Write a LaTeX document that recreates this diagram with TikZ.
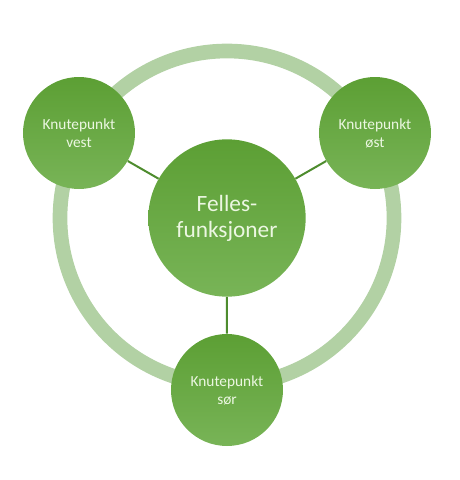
\documentclass[tikz,border=0pt]{standalone}
\usepackage{fontspec}
\setmainfont{Carlito}
\usepackage{xcolor}
\usepackage{tikz}

\definecolor{ringgreen}{HTML}{B2D1A4}
\definecolor{linkgreen}{HTML}{4E8C2E}
\definecolor{topgreen}{HTML}{5C9F34}
\definecolor{botgreen}{HTML}{78B457}
\definecolor{txtgreen}{HTML}{ECF7E2}

\begin{document}
\begin{tikzpicture}[x=0.75pt,y=0.75pt,
  hub/.style = {circle,top color=topgreen,bottom color=botgreen,
        draw=none,text=txtgreen,align=center,inner sep=0pt},
  bighub/.style = {hub,minimum size=118pt,font=\fontsize{17.5}{19.5}\selectfont},
  knot/.style = {hub,minimum size=84pt,font=\fontsize{11.5}{13.5}\selectfont},
  link/.style = {draw=linkgreen,line width=1.5pt}]
 \useasboundingbox (0,0) rectangle (460,480);
 \coordinate (mid) at (227,262);
 \draw[ringgreen,line width=11pt] (mid) circle (167);

 \node[bighub] (felles) at (mid)      {Felles-\\funksjoner};
 \node[knot]   (vest)   at (79,347)   {Knutepunkt\\vest};
 \node[knot]   (ost)    at (375,347)  {Knutepunkt\\øst};
 \node[knot]   (sor)    at (227,90)   {Knutepunkt\\sør};

 \path[link] (felles) -- (vest)
             (felles) -- (ost)
             (felles) -- (sor);
\end{tikzpicture}
\end{document}
